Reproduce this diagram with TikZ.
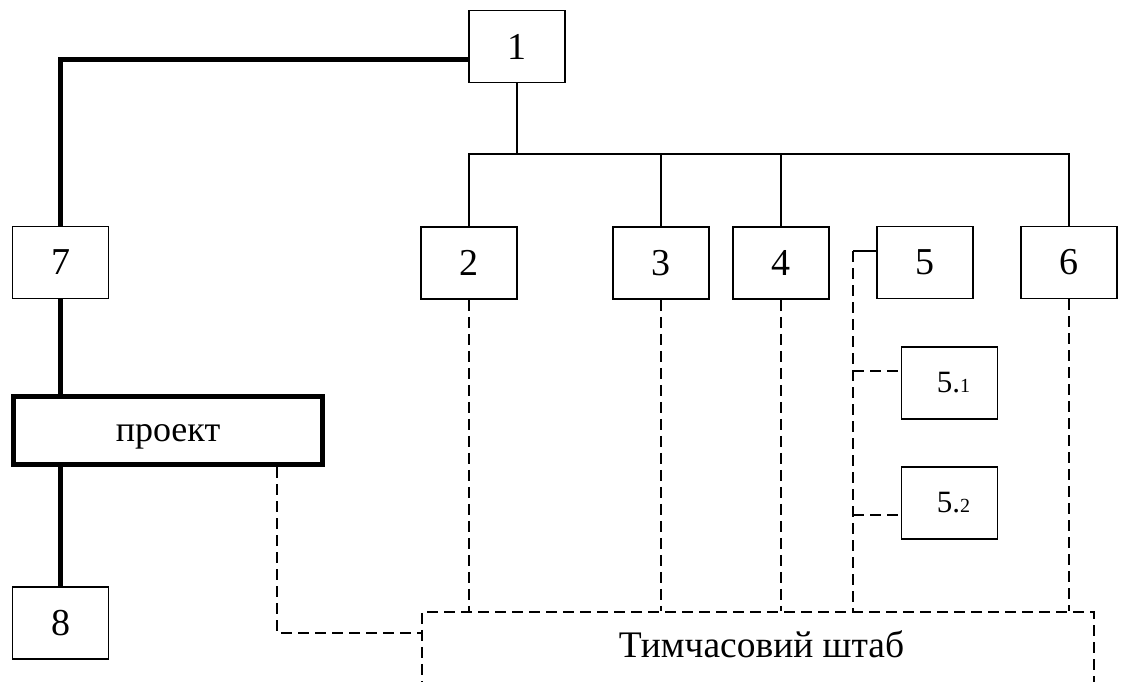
\documentclass[tikz,border=0pt]{standalone}
\usepackage{fontspec}
\setmainfont{Liberation Serif}
\tikzset{
  x=1pt, y=-1pt,
  box/.style={draw, line width=1.8pt, minimum width=96pt, minimum height=72pt, inner sep=0pt, font=\fontsize{38}{40}\selectfont},
  subbox/.style={box, font=\fontsize{31}{33}\selectfont},
  thickbox/.style={draw, line width=5pt, minimum width=309pt, minimum height=68pt, inner sep=0pt, text depth=0pt, font=\fontsize{36}{38}\selectfont},
  thinln/.style={line width=1.8pt},
  heavyln/.style={line width=5pt},
  dashln/.style={line width=1.8pt, dash pattern=on 11pt off 6pt},
}
\begin{document}
\begin{tikzpicture}
\useasboundingbox (0,0) rectangle (1121,681);
% boxes
\node[box] (n1) at (517,46.5) {1};
\node[box] (n2) at (469,263) {2};
\node[box] (n3) at (661,263) {3};
\node[box] (n4) at (781,263) {4};
\node[box] (n5) at (925,262.5) {5};
\node[box] (n6) at (1069,262.5) {6};
\node[box] (n7) at (60.5,262.5) {7};
\node[box] (n8) at (60.5,623) {8};
\node[thickbox] (proj) at (168,430.5) {\raisebox{-5pt}{проект}};
\node[subbox] (n51) at (949.5,383) {\hspace*{8pt}5.{\fontsize{20}{22}\selectfont 1}};
\node[subbox] (n52) at (949.5,503) {\hspace*{8pt}5.{\fontsize{20}{22}\selectfont 2}};
\node[draw, dashln, minimum width=672pt, minimum height=100pt, inner sep=0pt, anchor=north west] (staff) at (421,611) {};
\node[font=\fontsize{37.5}{40}\selectfont, inner sep=0pt, anchor=base] (stafftxt) at (761.5,657) {Тимчасовий штаб};
% coordinates
\coordinate (bus) at (0,154);
\coordinate (top7) at (469,59);
\coordinate (c5) at (853,251);
\coordinate (c51) at (853,371);
\coordinate (c52) at (853,515);
\coordinate (pj) at (277,0);
\coordinate (sw) at (421,633);
% solid tree
\draw[thinln] (n1.south) -- (n1.south |- bus);
\draw[thinln] (n2.north) -- (n2.north |- bus) -| (n6.north);
\draw[thinln] (n3.north) -- (n3.north |- bus);
\draw[thinln] (n4.north) -- (n4.north |- bus);
\draw[thinln] (c5) -- (c5 -| n5.west);
% heavy line
\draw[heavyln] (n7.north) |- (top7 -| n1.west);
\draw[heavyln] (n7.south) -- (n7.south |- proj.north);
\draw[heavyln] (n8.north |- proj.south) -- (n8.north);
% dashed
\draw[dashln] (n2.south) -- (n2.south |- staff.north);
\draw[dashln] (n3.south) -- (n3.south |- staff.north);
\draw[dashln] (n4.south) -- (n4.south |- staff.north);
\draw[dashln] (n6.south) -- (n6.south |- staff.north);
\draw[dashln] (c5) -- (c5 |- staff.north);
\draw[dashln] (c51) -- (c51 -| n51.west);
\draw[dashln] (c52) -- (c52 -| n52.west);
\draw[dashln] (pj |- proj.south) |- (sw -| staff.west);
\end{tikzpicture}
\end{document}
